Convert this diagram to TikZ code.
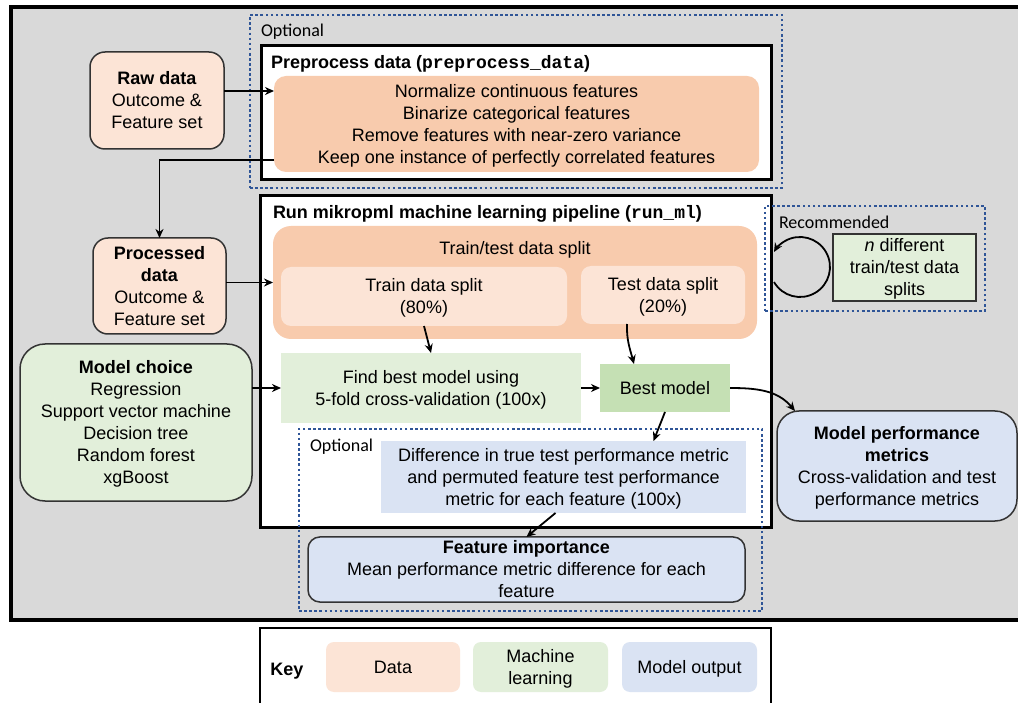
\documentclass[tikz,border=0pt]{standalone}
\usepackage{fontspec}
\setmainfont{Liberation Sans}
\setmonofont{Liberation Mono}
\newfontfamily\calibfont{Carlito}
\usetikzlibrary{arrows.meta,calc}
\definecolor{bggray}{HTML}{D9D9D9}
\definecolor{dorange}{HTML}{F8CBAD}
\definecolor{lpeach}{HTML}{FCE4D6}
\definecolor{lgreen}{HTML}{E2EFDA}
\definecolor{mgreen}{HTML}{C5E0B4}
\definecolor{lblue}{HTML}{DAE3F3}
\definecolor{dotblue}{HTML}{2F5597}
\definecolor{edgegray}{HTML}{333333}
\newcommand\tstr{\rule{0pt}{17pt}}
\newcommand\bstr{\rule[-4.1pt]{0pt}{4.1pt}}
\begin{document}
\begin{tikzpicture}[x=1pt,y=-1pt,
  base/.style={inner sep=0pt, outer sep=0pt, align=center, font=\fontsize{18}{22}\selectfont},
  sz/.style 2 args={minimum width=#1pt, minimum height=#2pt},
  blackframe/.style={base, draw=black, fill=white, line width=3pt},
  softedge/.style={draw=edgegray, line width=1.5pt},
  arr/.style={line width=1.8pt, -{Stealth[length=9pt,width=8pt]}},
  optbox/.style={base, draw=dotblue, line width=2.8pt, dash pattern=on 2.6pt off 2.5pt},
  lbl/.style={inner sep=0pt, outer sep=0pt, anchor=west, font=\calibfont\fontsize{18}{22}\selectfont},
  ttl/.style={inner sep=0pt, outer sep=0pt, anchor=base west, font=\bfseries\fontsize{18}{22}\selectfont},
]
\useasboundingbox (0,0) rectangle (1018,703);

% containers
\node[base, draw=black, fill=bggray, line width=4pt, sz={1019}{613}] (outer) at (520.5,313.5) {};
\node[base, draw=black, fill=white, line width=2.5pt, sz={511}{92}] (key) at (515.5,674) {};

\node[optbox, sz={532}{173}] (opttop) at (516,101.5) {};
\node[blackframe, sz={510}{134}] (prep) at (516,113) {};
\node[base, fill=dorange, rounded corners=12pt, sz={485}{96}] (prepin) at (516.5,124)
  {\tstr Normalize continuous features\\Binarize categorical features\\Remove features with near-zero variance\\Keep one instance of perfectly correlated features\bstr};

\node[base, softedge, fill=lpeach, rounded corners=15pt, sz={134}{97}] (raw) at (157,100.5)
  {\tstr\textbf{Raw data}\\Outcome \&\\Feature set\bstr};
\node[base, softedge, fill=lpeach, rounded corners=15pt, sz={133}{96}] (proc) at (159.5,286)
  {\tstr\textbf{Processed}\\\textbf{data}\\Outcome \&\\Feature set\bstr};
\node[base, softedge, fill=lgreen, rounded corners=25pt, sz={232}{157}] (mc) at (136,422.5)
  {\tstr\textbf{Model choice}\\Regression\\Support vector machine\\Decision tree\\Random forest\\xgBoost\bstr};

\node[blackframe, sz={511}{331}] (runml) at (515.5,361.5) {};
\node[base, fill=dorange, rounded corners=18pt, sz={484}{113}] (tt) at (515,282.5) {};
\node[base] (tttitle) at (515,248) {\tstr Train/test data split\bstr};
\node[base, fill=lpeach, rounded corners=10pt, sz={286}{59}] (train) at (424,296.5) {\tstr Train data split\\(80\%)\bstr};
\node[base, fill=lpeach, rounded corners=10pt, sz={164}{58}] (test) at (663,295) {\tstr Test data split\\(20\%)\bstr};
\node[base, fill=lgreen, sz={300}{70}] (find) at (431,388) {\tstr Find best model using\\5-fold cross-validation (100x)\bstr};
\node[base, fill=mgreen, sz={130}{48}] (best) at (665,388) {\tstr Best model\bstr};
\node[base, fill=lblue, sz={365}{72}] (diff) at (563.5,477)
  {\tstr Difference in true test performance metric\\and permuted feature test performance\\metric for each feature (100x)\bstr};
\node[optbox, sz={463}{182}] (optlow) at (530.5,520) {};
\node[base, softedge, fill=lblue, rounded corners=12pt, sz={437}{65}] (fi) at (526.5,569.5)
  {\tstr\textbf{Feature importance}\\Mean performance metric difference for each\\feature\bstr};
\node[base, softedge, fill=lblue, rounded corners=22pt, sz={240}{110}] (mp) at (897,466)
  {\tstr\textbf{Model performance}\\\textbf{metrics}\\Cross-validation and test\\performance metrics\bstr};
\node[base, softedge, fill=lgreen, sz={143}{67}] (ndiff) at (904.5,267.5)
  {\tstr\textit{n} different\\train/test data\\splits\bstr};
\node[optbox, sz={220}{105}] (rec) at (875,258.5) {};

% key items
\node[base, font=\bfseries\fontsize{18}{22}\selectfont] (keylbl) at (287,669) {\tstr Key\bstr};
\node[base, fill=lpeach, rounded corners=8pt, sz={134}{50}] (kdata) at (393,667) {\tstr Data\bstr};
\node[base, fill=lgreen, rounded corners=8pt, sz={135}{50}] (kml) at (540.5,667) {\tstr Machine\\learning\bstr};
\node[base, fill=lblue, rounded corners=8pt, sz={135}{50}] (kmo) at (689.5,667) {\tstr Model output\bstr};

% labels
\node[lbl] (opt1) at (261,32) {Optional};
\node[lbl] (opt2) at (310,447) {Optional};
\node[lbl] (reclbl) at (779,222) {Recommended};
\node[ttl] (preptitle) at (271,68.5) {Preprocess data (\texttt{preprocess\_data})};
\node[ttl] (runtitle) at (273,218.5) {Run mikropml machine learning pipeline (\texttt{run\_ml})};

% connectors
\coordinate (yA) at (0,91);
\coordinate (yB) at (0,160);
\coordinate (loopstart) at (774,282);
\draw[arr] (raw.east |- yA) -- (prepin.west |- yA);
\draw[arr] (prepin.west |- yB) -| (proc.north);
\draw[arr] (proc.east |- tt.west) -- (tt.west);
\draw[arr] (mc.east |- find.west) -- (find.west);
\draw[arr] (train.south) -- (find.north);
\draw[arr] ([xshift=-36pt]test.south) to[out=-92,in=105] ([xshift=-31pt]best.north);
\draw[arr] (find.east) -- (best.west);
\draw[arr] (best.east) to[out=0,in=130] ([xshift=18pt]mp.north west);
\draw[arr] (best.south) -- ([xshift=90pt]diff.north);
\draw[arr] ([xshift=-8pt]diff.south) -- (fi.north);
\draw[arr] (loopstart) arc[start angle=210, end angle=510, radius=30pt];
\end{tikzpicture}
\end{document}
